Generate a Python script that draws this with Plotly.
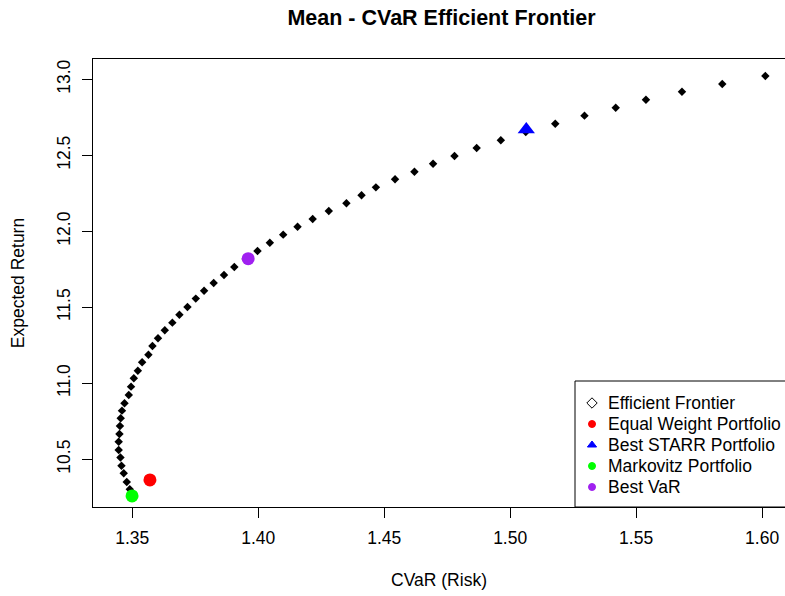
import plotly.graph_objects as go

# Efficient frontier points (CVaR risk, expected return)
frontier_cvar = [1.3500, 1.3490, 1.3478, 1.3466, 1.3457, 1.3453, 1.3446, 1.3446, 1.3449, 1.3451,
                 1.3454, 1.3459, 1.3469, 1.3486, 1.3495, 1.3506, 1.3522, 1.3539, 1.3564, 1.3580,
                 1.3602, 1.3629, 1.3659, 1.3687, 1.3719, 1.3752, 1.3785, 1.3823, 1.3864, 1.3905,
                 1.3950, 1.3997, 1.4046, 1.4099, 1.4156, 1.4216, 1.4280, 1.4350, 1.4410, 1.4467,
                 1.4543, 1.4620, 1.4694, 1.4779, 1.4867, 1.4963, 1.5062, 1.5179, 1.5295, 1.5419,
                 1.5539, 1.5682, 1.5842, 1.6013]
frontier_return = [10.252, 10.303, 10.351, 10.408, 10.458, 10.511, 10.561, 10.616, 10.666, 10.719,
                   10.770, 10.820, 10.868, 10.923, 10.978, 11.033, 11.083, 11.138, 11.188, 11.245,
                   11.296, 11.349, 11.399, 11.451, 11.502, 11.557, 11.609, 11.660, 11.713, 11.765,
                   11.818, 11.870, 11.925, 11.978, 12.030, 12.081, 12.134, 12.184, 12.237, 12.289,
                   12.342, 12.392, 12.445, 12.495, 12.548, 12.599, 12.653, 12.708, 12.761, 12.813,
                   12.866, 12.918, 12.969, 13.022]

# Special portfolios
special_names = ["Equal Weight Portfolio", "Best STARR Portfolio", "Markovitz Portfolio", "Best VaR"]
special_cvar = [1.3570, 1.5064, 1.3499, 1.3960]
special_return = [10.364, 12.670, 10.259, 11.820]
special_colors = ["#FF0000", "#0000FF", "#00FF00", "#A020F0"]
special_symbols = ["circle", "triangle-up", "circle", "circle"]
special_sizes = [13, 15, 13, 13]

legend_names = ["Efficient Frontier"] + special_names
legend_colors = ["black"] + special_colors
legend_symbols = ["diamond-open"] + special_symbols
legend_sizes = [8, 7, 8, 7, 7]

x_ticks = [1.35, 1.40, 1.45, 1.50, 1.55, 1.60]
x_ticklabels = ["1.35", "1.40", "1.45", "1.50", "1.55", "1.60"]
y_ticks = [10.5, 11.0, 11.5, 12.0, 12.5, 13.0]
y_ticklabels = ["10.5", "11.0", "11.5", "12.0", "12.5", "13.0"]

FONT = "Liberation Sans, Arial, sans-serif"
FS = 17.5

# layout geometry (pixels)
W, H = 785, 596
L, T, B = 93, 59, 89
plot_bottom = H - B

fig = go.Figure()

fig.add_trace(go.Scatter(
    x=frontier_cvar, y=frontier_return, mode="markers",
    marker=dict(symbol="diamond", size=6.5, color="black"),
    showlegend=False, name="Efficient Frontier"))

for n, xv, yv, c, s, sz in zip(special_names, special_cvar, special_return, special_colors,
                               special_symbols, special_sizes):
    fig.add_trace(go.Scatter(
        x=[xv], y=[yv], mode="markers",
        marker=dict(symbol=s, size=sz, color=c),
        showlegend=False, name=n))

# manual legend on a pixel-space overlay axis
leg_left, leg_top = 575, 381
row0, row_gap = 403, 21
sym_x, text_x = 592, 606
fig.add_shape(type="rect", xref="x2", yref="y2", x0=leg_left, x1=W + 6, y0=leg_top, y1=plot_bottom,
              line=dict(color="black", width=1), fillcolor="white", layer="below")
for i, (n, c, s, sz) in enumerate(zip(legend_names, legend_colors, legend_symbols, legend_sizes)):
    yy = row0 + i * row_gap
    fig.add_trace(go.Scatter(
        x=[sym_x], y=[yy], xaxis="x2", yaxis="y2", mode="markers", showlegend=False,
        marker=dict(symbol=s, size=sz, color=c, line=dict(width=1, color=c)),
        hoverinfo="skip"))
    fig.add_annotation(x=text_x, y=yy, xref="x2", yref="y2", text=n, showarrow=False,
                       xanchor="left", yanchor="middle", font=dict(size=FS, color="black"))

fig.update_layout(
    width=W, height=H,
    margin=dict(l=L, r=0, t=T, b=B),
    paper_bgcolor="white", plot_bgcolor="white",
    font=dict(family=FONT, size=FS, color="black"),
    title=dict(text="<b>Mean - CVaR Efficient Frontier</b>", x=(93 + 790) / 2 / 785, xanchor="center",
               y=1 - 17 / 596, yanchor="middle", font=dict(size=21.5, color="black")),
    xaxis=dict(range=[1.3344, 1.6091], tickvals=x_ticks, ticktext=x_ticklabels,
               showgrid=False, zeroline=False, showline=True, mirror=True,
               linecolor="black", linewidth=1, ticks="outside", ticklen=10,
               tickcolor="black", tickfont=dict(size=FS), ticklabelstandoff=5,
               title=dict(text="CVaR (Risk)", font=dict(size=FS), standoff=26)),
    yaxis=dict(range=[10.186, 13.1336], tickvals=y_ticks, ticktext=y_ticklabels,
               showgrid=False, zeroline=False, showline=True, mirror=False,
               linecolor="black", linewidth=1, ticks="outside", ticklen=10,
               tickcolor="black", tickangle=-90, tickfont=dict(size=FS), ticklabelstandoff=5,
               title=dict(text="Expected Return", font=dict(size=FS), standoff=24)),
    xaxis2=dict(overlaying="x", range=[L, W], visible=False, fixedrange=True),
    yaxis2=dict(overlaying="y", range=[plot_bottom, T], visible=False, fixedrange=True),
    showlegend=False,
)

fig.write_html("out.html")
